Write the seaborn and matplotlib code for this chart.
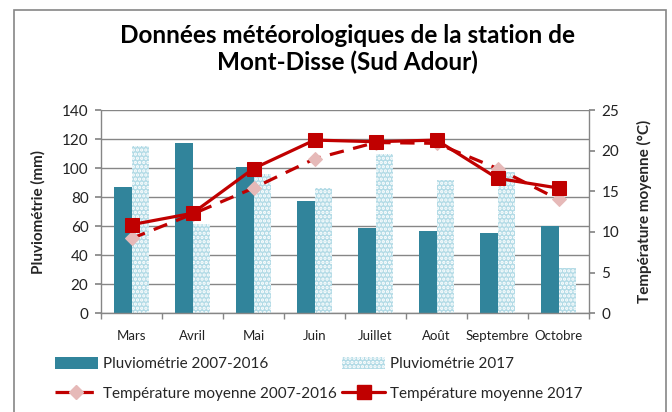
import numpy as np
import pandas as pd
import matplotlib
matplotlib.use("Agg")
import matplotlib.pyplot as plt
import seaborn as sns
from matplotlib.patches import Patch, Rectangle
from matplotlib.lines import Line2D
from matplotlib.ticker import FixedLocator, MultipleLocator

# ---- data ----
months = ['Mars', 'Avril', 'Mai', 'Juin', 'Juillet', 'Août', 'Septembre', 'Octobre']
pluvio_0716 = [87, 117, 101, 77.5, 59, 57, 55, 60]
pluvio_2017 = [115, 61.5, 96, 86, 110, 92, 97.5, 31]
temp_0716 = [9.2, 12.2, 15.4, 19.0, 21.0, 20.9, 17.8, 14.0]
temp_2017 = [10.9, 12.3, 17.8, 21.3, 21.1, 21.3, 16.6, 15.4]
series_names = ['Pluviométrie 2007-2016', 'Pluviométrie 2017',
                'Température moyenne 2007-2016', 'Température moyenne 2017']
title_text = "Données météorologiques de la station de\nMont-Disse (Sud Adour)"

sns.set_theme(style="white")
plt.rcParams['font.family'] = ['Lato', 'DejaVu Sans']
plt.rcParams['hatch.linewidth'] = 1.6

TEAL = '#31849B'
LIGHT = '#b3dbe6'
RED = '#C00000'
PINK = '#E6B9B8'
GRID = '#868686'
TXT = '#222222'

df = pd.DataFrame({
    'mois': months * 2,
    'pluvio': pluvio_0716 + pluvio_2017,
    'serie': [series_names[0]] * len(months) + [series_names[1]] * len(months),
})

fig = plt.figure(figsize=(6.72, 4.12), dpi=100)
ax = fig.add_axes([101/672, 1-313.3/412, (589-101)/672, (313.3-110)/412])

sns.barplot(data=df, x='mois', y='pluvio', hue='serie', order=months,
            hue_order=series_names[:2], palette=[TEAL, LIGHT],
            width=0.56, gap=0, saturation=1, legend=False, ax=ax,
            edgecolor='none', linewidth=0)
for bar in ax.containers[1]:
    bar.set_hatch('....')
    bar.set_edgecolor('white')
    bar.set_linewidth(0)

ax.set_ylim(0, 140)
ax.set_xlim(-0.5, len(months) - 0.5)
ax.yaxis.set_major_locator(MultipleLocator(20))
ax.grid(axis='y', color=GRID, linewidth=1)
ax.set_axisbelow(True)
for s in ['top', 'right']:
    ax.spines[s].set_visible(False)
for s in ['left', 'bottom']:
    ax.spines[s].set_color(GRID)
    ax.spines[s].set_linewidth(1)
ax.tick_params(axis='y', which='major', left=True, length=4, color=GRID,
               labelsize=11, pad=5, labelcolor=TXT)
ax.tick_params(axis='x', which='major', bottom=False, labelsize=9.5, pad=6,
               labelcolor=TXT)
ax.xaxis.set_minor_locator(FixedLocator(np.arange(-0.5, len(months), 1)))
ax.tick_params(axis='x', which='minor', bottom=True, length=4, color=GRID)
ax.set_xlabel('')
ax.set_ylabel('Pluviométrie (mm)', fontsize=11, fontweight='bold')
ax.yaxis.set_label_coords((46-101)/488, 0.5)

ax2 = ax.twinx()
x_idx = np.arange(len(months))
sns.lineplot(x=x_idx, y=temp_0716, ax=ax2, color=RED, linewidth=2.3,
             marker='D', markersize=7, markerfacecolor=PINK,
             markeredgecolor=PINK, legend=False)
ax2.lines[-1].set_linestyle((0, (4.5, 3)))
sns.lineplot(x=x_idx, y=temp_2017, ax=ax2, color=RED, linewidth=2.3,
             marker='s', markersize=10, markerfacecolor=RED,
             markeredgecolor=RED, legend=False)
ax2.set_ylim(0, 25)
ax2.yaxis.set_major_locator(MultipleLocator(5))
for s in ['top', 'left', 'bottom']:
    ax2.spines[s].set_visible(False)
ax2.spines['right'].set_color(GRID)
ax2.spines['right'].set_linewidth(1)
ax2.tick_params(axis='y', right=True, length=4, color=GRID, labelsize=11,
                pad=5, labelcolor=TXT)
ax2.set_ylabel('Température moyenne (°C)', fontsize=11, fontweight='bold')
ax2.yaxis.set_label_coords((637-101)/488, 0.5)
ax2.grid(False)

fig.text(347/672, 1-49/412, title_text, ha='center', va='center',
         fontsize=17.5, fontweight='bold', linespacing=1.2, color='black')

handles = [
    Patch(facecolor=TEAL, edgecolor='none'),
    Line2D([], [], color=RED, linewidth=2.3, linestyle=(0, (4.5, 3)), marker='D',
           markersize=7, markerfacecolor=PINK, markeredgecolor=PINK),
    Patch(facecolor=LIGHT, edgecolor='white', hatch='....', linewidth=0),
    Line2D([], [], color=RED, linewidth=2.3, marker='s', markersize=10,
           markerfacecolor=RED, markeredgecolor=RED),
]
labels = [series_names[0], series_names[2], series_names[1], series_names[3]]
fig.legend(handles, labels, ncol=2, loc='upper left',
           bbox_to_anchor=(55/672, 1-357/412), frameon=False, fontsize=11,
           handlelength=2.8, handleheight=0.8, handletextpad=0.35,
           columnspacing=0.35, labelspacing=1.0, borderpad=0, borderaxespad=0)

fig.patches.append(Rectangle((14/672, -0.1), (666-14)/672, 1.1-10/412,
                             transform=fig.transFigure, fill=False,
                             edgecolor=GRID, linewidth=1.2))

fig.savefig('out.png', dpi=100)
